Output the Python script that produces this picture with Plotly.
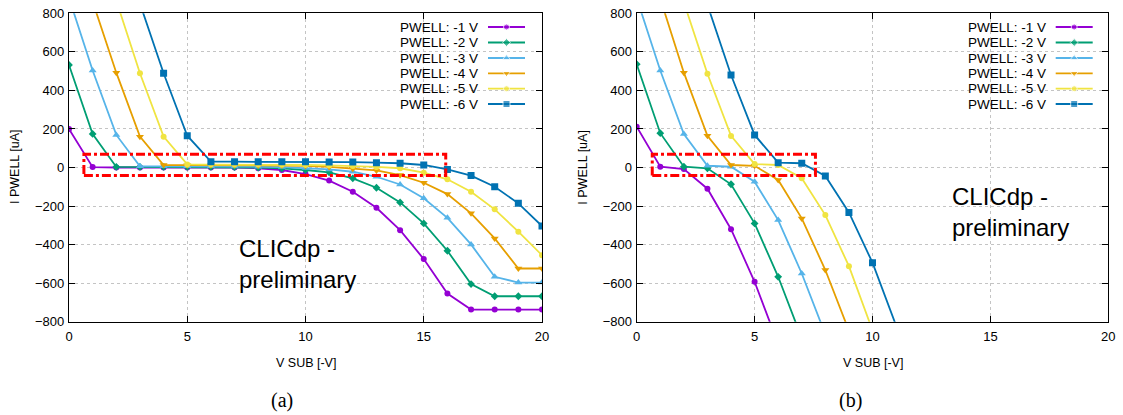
import plotly.graph_objects as go

# ---------------- data ----------------
v_sub = list(range(21))
labels = ["PWELL: -1 V", "PWELL: -2 V", "PWELL: -3 V", "PWELL: -4 V", "PWELL: -5 V", "PWELL: -6 V"]

# (a)
a_m1 = [200, 2, 0, 0, 0, 0, 0, 0, -4, -13, -34, -68, -126, -209, -325, -475, -654, -737, -737, -737, -737]
a_m2 = [532, 174, 3, 3, 3, 3, 3, 2, 0, -5, -13, -25, -56, -105, -181, -290, -432, -605, -668, -668, -668]
a_m3 = [880, 503, 169, 6, 6, 6, 6, 5, 4, 2, -3, -10, -22, -48, -88, -160, -261, -399, -567, -597, -597]
a_m4 = [1230, 863, 492, 160, 13, 12, 12, 12, 11, 10, 8, 3, -6, -15, -39, -79, -138, -238, -368, -524, -524]
a_m5 = [1620, 1240, 869, 489, 160, 16, 15, 15, 15, 14, 13, 11, 8, 3, -4, -27, -61, -126, -217, -333, -455]
a_m6 = [2000, 1600, 1210, 851, 489, 165, 30, 30, 30, 30, 30, 29, 28, 25, 22, 13, -10, -42, -100, -186, -304]

# (b)
b_m1 = [212, 4, -8, -110, -320, -593, -916]
b_m2 = [536, 178, 4, -4, -87, -290, -567, -886]
b_m3 = [879, 503, 174, 9, 4, -74, -273, -550, -866]
b_m4 = [1260, 877, 492, 165, 13, 9, -65, -264, -532, -847]
b_m5 = [1600, 1230, 855, 486, 164, 18, 13, -56, -247, -512, -845]
b_m6 = [2000, 1600, 1210, 844, 480, 169, 25, 22, -44, -233, -494, -820]

# highlighted region (x0, x1, y0, y1)
box_a = [0.63, 15.93, -42, 69]
box_b = [0.66, 7.58, -42, 69]

x_ticks = [0, 5, 10, 15, 20]
y_ticks = [-800, -600, -400, -200, 0, 200, 400, 600, 800]

# ---------------- style ----------------
colors = ["#9400d3", "#009e73", "#56b4e9", "#e69f00", "#f0e442", "#0072b2"]
symbols = ["circle", "diamond", "triangle-up", "triangle-down", "circle", "square"]
sizes = [6, 6, 7, 7, 6, 7]
FONT = "Liberation Sans, Arial, sans-serif"

W, H = 1123, 415
fig = go.Figure()

series_a = [a_m1, a_m2, a_m3, a_m4, a_m5, a_m6]
series_b = [b_m1, b_m2, b_m3, b_m4, b_m5, b_m6]

for i in range(6):
    fig.add_trace(go.Scatter(x=v_sub[:len(series_a[i])], y=series_a[i], mode="lines+markers",
                             line=dict(color=colors[i], width=1.8),
                             marker=dict(symbol=symbols[i], size=sizes[i], color=colors[i]),
                             xaxis="x", yaxis="y", showlegend=False))
for i in range(6):
    fig.add_trace(go.Scatter(x=v_sub[:len(series_b[i])], y=series_b[i], mode="lines+markers",
                             line=dict(color=colors[i], width=1.8),
                             marker=dict(symbol=symbols[i], size=sizes[i], color=colors[i]),
                             xaxis="x2", yaxis="y2", showlegend=False))

# legend glyphs on a pixel-coordinate overlay axis
leg_rows = [27, 42.5, 58, 73.3, 88.7, 104]
for off in [0, 567.7]:
    for i in range(6):
        x0, x1 = 488 + off, 525 + off
        fig.add_trace(go.Scatter(x=[x0, (x0 + x1) / 2, x1], y=[leg_rows[i]] * 3, mode="lines+markers",
                                 line=dict(color=colors[i], width=1.8),
                                 marker=dict(symbol=symbols[i], size=[0, sizes[i], 0], color=colors[i]),
                                 xaxis="x3", yaxis="y3", showlegend=False, hoverinfo="skip"))

x_dom_a = [69 / W, 542 / W]
x_dom_b = [636.7 / W, 1108.3 / W]
y_dom = [(H - 321.7) / H, (H - 13.3) / H]

ax_common = dict(showline=True, linecolor="black", linewidth=1.2, mirror="ticks",
                 ticks="inside", ticklen=6, tickwidth=1, tickcolor="black",
                 showgrid=True, gridcolor="#c4c4c4", griddash="dot", gridwidth=1,
                 zeroline=False, automargin=False,
                 tickfont=dict(family=FONT, size=13, color="black"))

fig.update_layout(
    width=W, height=H, margin=dict(l=0, r=0, t=0, b=0, pad=0, autoexpand=False),
    paper_bgcolor="white", plot_bgcolor="rgba(0,0,0,0)",
    xaxis=dict(domain=x_dom_a, anchor="y", range=[0, 20], tickvals=x_ticks, ticklabelstandoff=3, **ax_common),
    yaxis=dict(domain=y_dom, anchor="x", range=[-800, 800], tickvals=y_ticks, ticklabelstandoff=1, **ax_common),
    xaxis2=dict(domain=x_dom_b, anchor="y2", range=[0, 20], tickvals=x_ticks, ticklabelstandoff=3, **ax_common),
    yaxis2=dict(domain=y_dom, anchor="x2", range=[-800, 800], tickvals=y_ticks, ticklabelstandoff=1, **ax_common),
    xaxis3=dict(domain=[0, 1], anchor="y3", range=[0, W], visible=False, fixedrange=True, automargin=False),
    yaxis3=dict(domain=[0, 1], anchor="x3", range=[H, 0], visible=False, fixedrange=True, automargin=False),
    showlegend=False,
)

# highlight rectangles
for (bx, xr, yr) in [(box_a, "x", "y"), (box_b, "x2", "y2")]:
    fig.add_shape(type="rect", xref=xr, yref=yr, x0=bx[0], x1=bx[1], y0=bx[2], y1=bx[3],
                  line=dict(color="#ff0000", width=3, dash="dashdot"), fillcolor="rgba(0,0,0,0)")

ann = []
for off in [0, 567.7]:
    for i in range(6):
        ann.append(dict(x=480 + off, y=leg_rows[i], xref="x3", yref="y3", text=labels[i],
                        showarrow=False, xanchor="right", yanchor="middle",
                        font=dict(family=FONT, size=13.5, color="black")))
    ann.append(dict(x=305.5 + off, y=363, xref="x3", yref="y3", text="V SUB [-V]", showarrow=False,
                    xanchor="center", yanchor="middle", font=dict(family=FONT, size=12.5, color="black")))
    ann.append(dict(x=15 + off, y=167, xref="x3", yref="y3", text="I PWELL [uA]", showarrow=False,
                    textangle=-90, xanchor="center", yanchor="middle",
                    font=dict(family=FONT, size=12.5, color="black")))
ann.append(dict(x=237, y=233, xref="x3", yref="y3", text="CLICdp -<br>preliminary", showarrow=False,
                xanchor="left", yanchor="top", align="left", font=dict(family=FONT, size=24, color="black")))
ann.append(dict(x=950, y=181, xref="x3", yref="y3", text="CLICdp -<br>preliminary", showarrow=False,
                xanchor="left", yanchor="top", align="left", font=dict(family=FONT, size=24, color="black")))
ann.append(dict(x=282, y=400, xref="x3", yref="y3", text="(a)", showarrow=False,
                xanchor="center", yanchor="middle",
                font=dict(family="Liberation Serif, Times New Roman, serif", size=20, color="black")))
ann.append(dict(x=850, y=400, xref="x3", yref="y3", text="(b)", showarrow=False,
                xanchor="center", yanchor="middle",
                font=dict(family="Liberation Serif, Times New Roman, serif", size=20, color="black")))
fig.update_layout(annotations=ann)

# remove the browser's default 8px page margin so the figure sits at the window origin
fig.write_html("out.html", config={"displayModeBar": False},
               post_script="document.body.style.margin='0';document.body.style.overflow='hidden';")
